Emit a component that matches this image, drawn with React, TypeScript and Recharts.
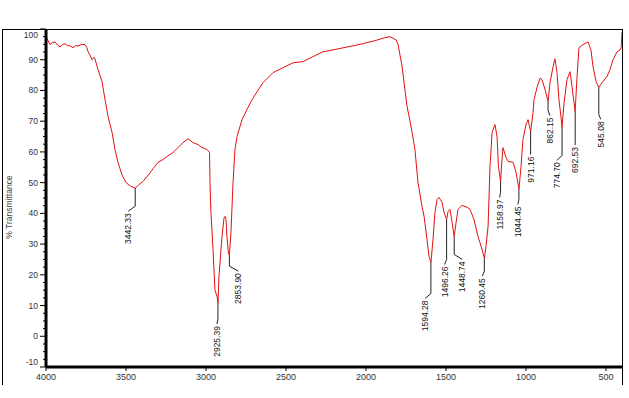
import React from "react";
import { ComposedChart, Line, Scatter, XAxis, YAxis } from "recharts";

// ---------------------------------------------------------------------------
// Spectrum (wavenumber cm-1, % transmittance)
// ---------------------------------------------------------------------------
const wavenumber = [
  4000, 3994, 3975, 3960, 3944, 3925, 3912, 3895, 3881, 3865, 3850, 3831, 3815, 3800,
  3775, 3756, 3745, 3737, 3725, 3712, 3700, 3694, 3675, 3650, 3631, 3612, 3587, 3569,
  3550, 3525, 3500, 3470, 3442, 3420, 3394, 3360, 3331, 3300, 3269, 3244, 3206, 3175,
  3144, 3112, 3081, 3050, 3025, 2994, 2978, 2975, 2970, 2956, 2944, 2931, 2925, 2919,
  2900, 2887, 2880, 2875, 2869, 2860, 2854, 2844, 2831, 2819, 2806, 2775, 2744, 2712,
  2681, 2644, 2581, 2519, 2456, 2394, 2331, 2269, 2225, 2131, 2037, 1944, 1881, 1850,
  1812, 1800, 1775, 1756, 1744, 1725, 1712, 1694, 1675, 1650, 1637, 1619, 1606, 1594,
  1581, 1569, 1556, 1544, 1525, 1512, 1496, 1487, 1475, 1462, 1449, 1437, 1425, 1400,
  1369, 1350, 1325, 1300, 1275, 1260, 1250, 1237, 1225, 1212, 1194, 1181, 1172, 1159,
  1150, 1144, 1125, 1112, 1081, 1062, 1044, 1031, 1019, 1000, 987, 971, 956, 950,
  931, 912, 900, 881, 862, 850, 831, 819, 806, 794, 781, 775, 762, 744,
  725, 712, 700, 693, 681, 669, 644, 612, 594, 581, 562, 545, 525, 494,
  475, 456, 431, 412, 405, 400,
];
const transmittance = [
  97, 97, 94.9, 95.6, 95.8, 94.6, 94.2, 95, 95.2, 94.6, 94.5, 93.9, 94.6, 94.5,
  95, 94.9, 94, 92.6, 91.5, 90, 90.8, 90.3, 86.8, 82.9, 77, 71.5, 66.3, 60.8,
  56.6, 52.5, 50, 48.8, 48.2, 49.3, 50.4, 52.5, 54.5, 56.6, 57.5, 58.5, 59.8, 61.4,
  63, 64.3, 63, 62.4, 61.4, 60.8, 59.8, 50, 41.3, 28, 15, 13, 10.8, 19.5,
  32.5, 38.7, 39, 38, 32.5, 27, 26.4, 33.8, 50, 60.8, 65, 70.5, 73.8, 77,
  79.6, 82.5, 85.8, 87.4, 89, 89.4, 91, 92.6, 93, 94, 95, 96.2, 97.2, 97.5,
  96.5, 95, 88, 80, 75, 70, 66.3, 60.8, 50, 42.3, 39, 31.6, 26, 24,
  31.6, 40.3, 44.5, 45.2, 43.6, 40.3, 38, 40.6, 41.3, 37.1, 32.5, 37, 41.3, 42.6,
  42, 41.3, 38, 32.5, 28.3, 25.4, 29.3, 35.8, 55.3, 66.3, 68.9, 65, 55.3, 50.4,
  57.5, 61.4, 58.2, 56.9, 56.6, 53.3, 47.8, 55.3, 64, 68.9, 70.5, 66.6, 72.8, 77,
  81, 84, 83.5, 80.3, 76.4, 82.5, 87.7, 90.3, 85.8, 77, 71.2, 68, 76, 83.5,
  86.1, 81.2, 76, 73, 84.5, 93.9, 94.9, 95.8, 93.2, 87.7, 82.9, 81, 82.5, 84.5,
  86.8, 90, 92.6, 93.2, 94, 99,
];

// labelled absorption peaks
const peakWn = [3442.33, 2925.39, 2853.9, 1594.28, 1496.26, 1448.74, 1260.45, 1158.97, 1044.45, 971.16, 862.15, 774.7, 692.53, 545.08];
const peakT = [48.2, 10.8, 26.4, 24, 38, 32.5, 25.4, 50.4, 47.8, 66.6, 76.4, 68, 73, 81];
const peakLabel = ["3442.33", "2925.39", "2853.90", "1594.28", "1496.26", "1448.74", "1260.45", "1158.97", "1044.45", "971.16", "862.15", "774.70", "692.53", "545.08"];

// leader layout (px): drop below the peak and sideways shift of the label
const leaderGap = [25, 23, 18, 38, 47, 25, 20, 18, 17, 25, 16, 35, 35, 34];
const leaderDx = [-7, -1, 9, -6, -2, 8, -2, -1, -1, 0, 2, -5, 0, 2];

const xTicks = [4000, 3500, 3000, 2500, 2000, 1500, 1000, 500];
const yMajor = [-10, 0, 10, 20, 30, 40, 50, 60, 70, 80, 90, 100];

// ---------------------------------------------------------------------------
const W = 629;
const H = 398;
const PLOT_LEFT = 46;
const PLOT_TOP = 29;
const PLOT_RIGHT = 622;
const PLOT_BOTTOM = 367;
const YAXIS_W = 40;
const XAXIS_H = 20;
const FONT = "'Liberation Sans', Arial, sans-serif";

const data = wavenumber.map((wn, i) => ({ wn, t: transmittance[i] }));
const peakData = peakWn.map((wn, i) => ({
  wn,
  t: peakT[i],
  label: peakLabel[i],
  gap: leaderGap[i],
  dx: leaderDx[i],
}));
const yTicks = yMajor.flatMap((v) => (v < 100 ? [v, v + 2.5, v + 5, v + 7.5] : [v]));

function YTick(props: any) {
  const { y, payload } = props;
  const v = payload.value as number;
  const major = v % 10 === 0;
  const dy = v === 100 ? 6 : v === -10 ? -5 : 0;
  return (
    <g>
      <line x1={PLOT_LEFT - (major ? 6 : 3)} x2={PLOT_LEFT} y1={y} y2={y} stroke="#000" strokeWidth={1} />
      {major && (
        <text x={PLOT_LEFT - 8} y={y + dy + 3} textAnchor="end" fontSize={8.5} fontFamily={FONT} fill="#333">
          {v}
        </text>
      )}
    </g>
  );
}

function XTick(props: any) {
  const { x, payload } = props;
  return (
    <g>
      <line x1={x} x2={x} y1={PLOT_BOTTOM} y2={PLOT_BOTTOM + 4} stroke="#000" strokeWidth={1} />
      <text x={x} y={PLOT_BOTTOM + 13} textAnchor="middle" fontSize={9} fontFamily={FONT} fill="#333">
        {payload.value}
      </text>
    </g>
  );
}

function PeakMark(props: any) {
  const { cx, cy, payload } = props;
  if (cx == null || cy == null) return null;
  const { gap, dx, label } = payload;
  const yTurn = cy + gap - 7;
  const yEnd = cy + gap - 2;
  const tx = cx + dx + 3;
  const ty = cy + gap;
  return (
    <g>
      <path d={`M${cx},${cy} L${cx},${yTurn} L${cx + dx},${yEnd}`} fill="none" stroke="#222" strokeWidth={1} />
      <text
        x={tx}
        y={ty}
        transform={`rotate(-90 ${tx} ${ty})`}
        textAnchor="end"
        fontSize={8.5}
        fontFamily={FONT}
        fill="#111"
      >
        {label}
      </text>
    </g>
  );
}

export default function App() {
  return (
    <div style={{ position: "absolute", left: 0, top: 0, width: W, height: H, background: "#fff", overflow: "hidden" }}>
      {/* outer frame */}
      <div
        style={{
          position: "absolute",
          left: 2,
          top: PLOT_TOP,
          width: PLOT_RIGHT - 2 + 1,
          height: 356,
          boxSizing: "border-box",
          borderLeft: "1px solid #000",
          borderTop: "1px solid #000",
          borderRight: "1px solid #000",
        }}
      />
      <div style={{ position: "absolute", left: 0, top: 0 }}>
        <ComposedChart
          width={W}
          height={H}
          data={data}
          margin={{ top: PLOT_TOP, right: W - PLOT_RIGHT, left: PLOT_LEFT - YAXIS_W, bottom: H - PLOT_BOTTOM - XAXIS_H }}
        >
          <XAxis
            dataKey="wn"
            type="number"
            domain={[400, 4000]}
            reversed
            allowDataOverflow
            ticks={xTicks}
            interval={0}
            height={XAXIS_H}
            axisLine={{ stroke: "#000", strokeWidth: 3 }}
            tickLine={false}
            tick={(p: any) => <XTick {...p} />}
          />
          <YAxis
            type="number"
            domain={[-10, 100]}
            allowDataOverflow
            ticks={yTicks}
            interval={0}
            width={YAXIS_W}
            axisLine={{ stroke: "#000", strokeWidth: 3 }}
            tickLine={false}
            tick={(p: any) => <YTick {...p} />}
            label={() => (
              <text
                x={12}
                y={207}
                transform="rotate(-90 12 207)"
                textAnchor="middle"
                fontSize={8.5}
                fontFamily={FONT}
                fill="#444"
              >
                % Transmittance
              </text>
            )}
          />
          <Line
            type="linear"
            dataKey="t"
            stroke="#e41010"
            strokeWidth={1}
            dot={false}
            activeDot={false}
            isAnimationActive={false}
          />
          <Scatter
            data={peakData}
            dataKey="t"
            isAnimationActive={false}
            shape={(p: any) => <PeakMark {...p} />}
          />
        </ComposedChart>
      </div>
    </div>
  );
}
